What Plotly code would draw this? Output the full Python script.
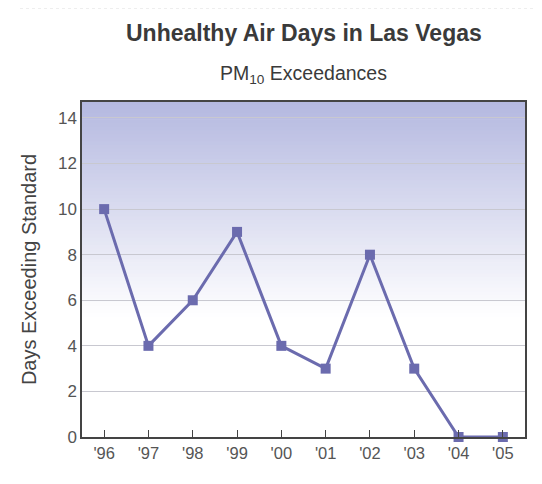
import plotly.graph_objects as go

years = ["'96", "'97", "'98", "'99", "'00", "'01", "'02", "'03", "'04", "'05"]
days = [10, 4, 6, 9, 4, 3, 8, 3, 0, 0]
y_ticks = [0, 2, 4, 6, 8, 10, 12, 14]

OFF = 8  # page body offset
W, H = 542 - OFF, 484 - OFF
ML, MR, MT, MB = 82 - OFF, 17, 102 - OFF, 47
PW, PH = W - ML - MR, H - MT - MB

def px(x):
    return (x - OFF - ML) / PW

def py(y):
    return (H + OFF - MB - y) / PH

fig = go.Figure()
fig.add_trace(go.Scatter(
    x=list(range(len(years))), y=days, mode="lines+markers",
    line=dict(color="#6b6bae", width=3),
    marker=dict(symbol="square", size=10, color="#6b6bae"),
    cliponaxis=False, showlegend=False,
))

shapes = []
# gradient background
top = (180, 184, 224)
n = 60
g0 = 0.36
for i in range(n):
    a = g0 + (1 - g0) * i / n
    b = g0 + (1 - g0) * (i + 1) / n
    t = (i + 0.5) / n
    c = tuple(int(round(255 + (tc - 255) * t)) for tc in top)
    shapes.append(dict(type="rect", xref="paper", yref="paper", x0=0, x1=1, y0=a, y1=b + 0.002,
                       fillcolor="rgb(%d,%d,%d)" % c, line=dict(width=0), layer="below"))
# faint outer frame
fc = "rgba(200,200,200,0.6)"
shapes.append(dict(type="line", xref="paper", yref="paper", x0=px(20), x1=px(542), y0=py(8), y1=py(8), line=dict(color=fc, width=1, dash="dot")))

fig.update_layout(
    width=W, height=H,
    margin=dict(l=ML, r=MR, t=MT, b=MB),
    paper_bgcolor="white", plot_bgcolor="rgba(0,0,0,0)",
    font=dict(family="Liberation Sans, Arial, sans-serif", color="#444"),
    shapes=shapes,
    annotations=[
        dict(text="<b>Unhealthy Air Days in Las Vegas</b>", xref="paper", yref="paper",
             x=0.5, y=py(33), xanchor="center", yanchor="middle", showarrow=False,
             font=dict(size=23, color="#3a3a3a")),
        dict(text="PM<sub>10</sub> Exceedances", xref="paper", yref="paper",
             x=0.5, y=py(75), xanchor="center", yanchor="middle", showarrow=False,
             font=dict(size=19.5, color="#3a3a3a")),
    ],
    xaxis=dict(
        range=[-0.5, len(years) - 0.5], tickmode="array",
        tickvals=list(range(len(years))), ticktext=years,
        ticks="inside", ticklen=7, tickcolor="#444", tickwidth=1,
        showline=True, linecolor="#444", linewidth=1.5, mirror=True,
        showgrid=False, zeroline=False,
        tickfont=dict(size=16.5, color="#555"),
    ),
    yaxis=dict(
        range=[0, 14.7], tickmode="array", tickvals=y_ticks,
        ticks="", showline=True, linecolor="#444", linewidth=1.5, mirror=True,
        showgrid=True, gridcolor="#c8c8d0", gridwidth=1, zeroline=False,
        tickfont=dict(size=17, color="#555"),
        title=dict(text="Days Exceeding Standard", font=dict(size=20, color="#444"), standoff=16),
    ),
)
fig.write_html("out.html")
